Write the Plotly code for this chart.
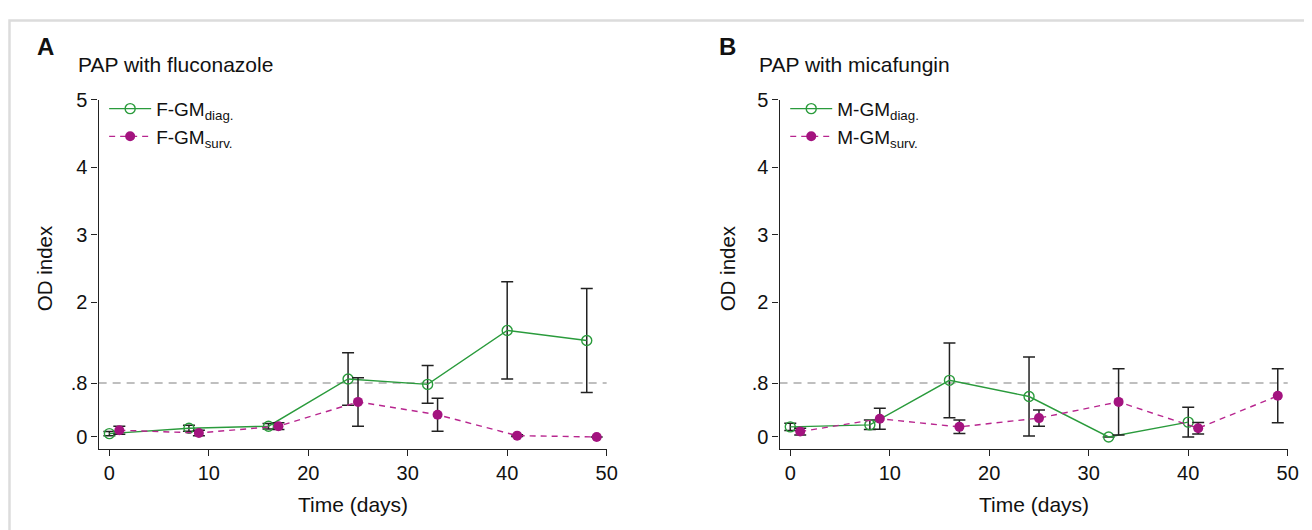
import plotly.graph_objects as go

# Figure size and mapping from the picture's pixel positions to figure pixels
W, H = 1304, 522
OX, OY, SX, SY = 9.0, 18.0, 0.99, 0.982

# ---- data ----
days_diag_A = [0, 8, 16, 24, 32, 40, 48]
od_diag_A = [0.05, 0.13, 0.16, 0.86, 0.78, 1.58, 1.43]
err_diag_A = [0.03, 0.045, 0.04, 0.39, 0.28, 0.72, 0.77]

days_surv_A = [1, 9, 17, 25, 33, 41, 49]
od_surv_A = [0.10, 0.06, 0.16, 0.52, 0.33, 0.02, 0.0]
err_surv_A = [0.06, 0.04, 0.05, 0.36, 0.245, 0.012, 0.0]

days_diag_B = [0, 8, 16, 24, 32, 40]
od_diag_B = [0.15, 0.18, 0.84, 0.60, 0.0, 0.22]
err_diag_B = [0.055, 0.07, 0.555, 0.585, 0.0, 0.22]

days_surv_B = [1, 9, 17, 25, 33, 41, 49]
od_surv_B = [0.08, 0.27, 0.15, 0.28, 0.52, 0.13, 0.61]
err_surv_B = [0.05, 0.155, 0.10, 0.12, 0.49, 0.085, 0.40]

ytick_vals = [0, 0.8, 2, 3, 4, 5]
ytick_text = ["0", ".8", "2", "3", "4", "5"]
xtick_vals = [0, 10, 20, 30, 40, 50]
threshold = 0.8

GREEN = "#2a9b3c"
MAGENTA = "#a3137f"
MAG_LINE = "#b8268f"
FONT = "Arial, Liberation Sans, Helvetica, sans-serif"


def px(x):
    return ((x - OX) / SX) / W


def py(y):
    return 1 - ((y - OY) / SY) / H


fig = go.Figure()


def add_pair(xa, ya, legend, prefix, dd, od, ed, ds, os_, es):
    fig.add_trace(go.Scatter(
        x=dd, y=od, xaxis=xa, yaxis=ya, legend=legend,
        name=f"{prefix}-GM<sub>diag.</sub>", mode="lines+markers",
        line=dict(color=GREEN, width=1.4),
        marker=dict(symbol="circle-open", size=10, color=GREEN, line=dict(width=1.4)),
        error_y=dict(type="data", array=ed, color="#222222", thickness=1.5, width=6),
    ))
    fig.add_trace(go.Scatter(
        x=ds, y=os_, xaxis=xa, yaxis=ya, legend=legend,
        name=f"{prefix}-GM<sub>surv.</sub>", mode="lines+markers",
        line=dict(color=MAG_LINE, width=1.4, dash="6px,5px"),
        marker=dict(symbol="circle", size=10, color=MAGENTA),
        error_y=dict(type="data", array=es, color="#222222", thickness=1.5, width=6),
    ))


add_pair("x", "y", "legend", "F", days_diag_A, od_diag_A, err_diag_A,
         days_surv_A, od_surv_A, err_surv_A)
add_pair("x2", "y2", "legend2", "M", days_diag_B, od_diag_B, err_diag_B,
         days_surv_B, od_surv_B, err_surv_B)

domY = [py(449), py(99)]
domA = [px(99.5), px(606.7)]
domB = [px(779.3), px(1286.7)]

xax = dict(range=[-1.08, 50], tickvals=xtick_vals, showline=True, linecolor="#222222",
           linewidth=1.4, ticks="outside", ticklen=6, tickcolor="#222222", tickwidth=1.3,
           showgrid=False, zeroline=False, tickfont=dict(size=20, color="#111111"))
yax = dict(range=[-0.173, 5], tickvals=ytick_vals, ticktext=ytick_text, showline=True,
           linecolor="#222222", linewidth=1.4, ticks="outside", ticklen=6,
           tickcolor="#222222", tickwidth=1.3, showgrid=False, zeroline=False,
           tickfont=dict(size=20, color="#111111"), domain=domY)

leg = dict(bgcolor="rgba(0,0,0,0)", font=dict(size=19, color="#111111", family=FONT),
           xanchor="left", yanchor="top", itemwidth=42, tracegroupgap=0,
           yref="paper", xref="paper")

fig.update_layout(
    width=W, height=H, autosize=False,
    margin=dict(l=0, r=0, t=0, b=0),
    paper_bgcolor="white", plot_bgcolor="white",
    font=dict(family=FONT, color="#111111"),
    xaxis=dict(xax, domain=domA, anchor="y"),
    yaxis=dict(yax, anchor="x"),
    xaxis2=dict(xax, domain=domB, anchor="y2"),
    yaxis2=dict(yax, anchor="x2"),
    legend=dict(leg, x=px(105), y=py(89)),
    legend2=dict(leg, x=px(785), y=py(89)),
    showlegend=True,
)

for xr, yr in [("x", "y"), ("x2", "y2")]:
    fig.add_shape(type="line", xref=f"{xr} domain", yref=yr, x0=0, x1=1,
                  y0=threshold, y1=threshold,
                  line=dict(color="#aaaaaa", width=1.6, dash="8px,6px"), layer="below")

# light frame around the figure
fig.add_shape(type="rect", xref="paper", yref="paper", x0=1.5 / W, x1=1.05,
              y0=-0.1, y1=1 - 1.5 / H, line=dict(color="#dcdcdc", width=2.5))

annots = [
    dict(text="<b>A</b>", x=36, y=46, size=24, xanchor="left"),
    dict(text="<b>B</b>", x=717, y=46, size=24, xanchor="left"),
    dict(text="PAP with fluconazole", x=77, y=64, size=21, xanchor="left"),
    dict(text="PAP with micafungin", x=757, y=64, size=21, xanchor="left"),
    dict(text="Time (days)", x=353, y=505, size=21, xanchor="center"),
    dict(text="Time (days)", x=1033, y=505, size=21, xanchor="center"),
]
for a in annots:
    fig.add_annotation(text=a["text"], x=px(a["x"]), y=py(a["y"]), xref="paper", yref="paper",
                       xanchor=a["xanchor"], yanchor="middle", showarrow=False,
                       font=dict(size=a["size"], color="#111111", family=FONT))
for xp in [45, 727]:
    fig.add_annotation(text="OD index", x=px(xp), y=py(268), xref="paper", yref="paper",
                       xanchor="center", yanchor="middle", textangle=-90, showarrow=False,
                       font=dict(size=20.5, color="#111111", family=FONT))

fig.write_html("out.html")
